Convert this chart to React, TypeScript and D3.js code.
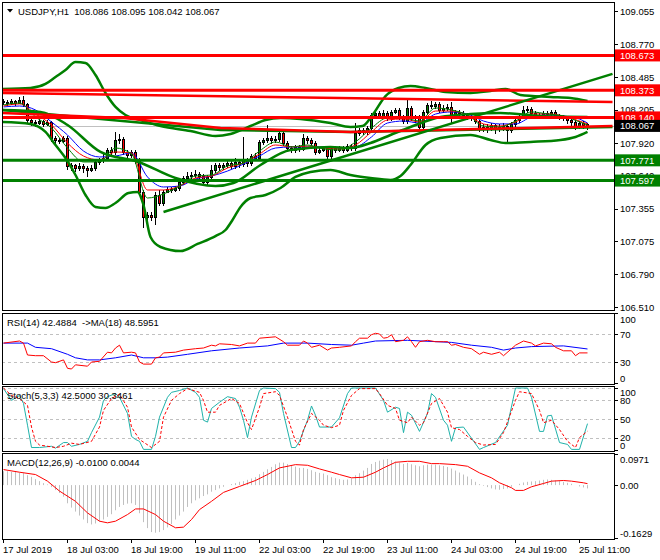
import React from 'react';
import * as d3 from 'd3';

// ------------------------------------------------------------------ data
const titleText = 'USDJPY,H1  108.086 108.095 108.042 108.067';
const rsiTitle = 'RSI(14) 42.4884  ->MA(18) 48.5951';
const stochTitle = 'Stoch(5,3,3) 42.5000 30.3461';
const macdTitle = 'MACD(12,26,9) -0.0100 0.0044';

const timeLabels = ['17 Jul 2019', '18 Jul 03:00', '18 Jul 19:00', '19 Jul 11:00', '22 Jul 03:00',
  '22 Jul 19:00', '23 Jul 11:00', '24 Jul 03:00', '24 Jul 19:00', '25 Jul 11:00'];
const timeLabelBars = [0, 16, 32, 48, 64, 80, 96, 112, 128, 144];

const priceTickLabels = ['109.055', '108.770', '108.485', '108.205', '107.920', '107.640',
  '107.355', '107.075', '106.790', '106.510'];
const resistanceLevels = [108.673, 108.373, 108.140];
const supportLevels = [107.771, 107.597];
const lastPrice = 108.067;

// [open, high, low, close]
const candles: number[][] = [
  [108.281,108.298,108.255,108.272],[108.272,108.290,108.247,108.264],[108.264,108.298,108.255,108.281],
  [108.281,108.290,108.247,108.264],[108.264,108.316,108.264,108.290],[108.290,108.324,108.238,108.255],
  [108.255,108.264,108.092,108.118],[108.118,108.135,108.075,108.101],[108.101,108.118,108.066,108.092],
  [108.092,108.126,108.084,108.109],[108.109,108.118,108.066,108.084],[108.084,108.118,108.075,108.101],
  [108.101,108.109,107.937,107.963],[107.963,107.980,107.920,107.946],[107.946,107.963,107.920,107.937],
  [107.937,107.980,107.929,107.963],[107.963,107.980,107.696,107.722],[107.722,107.748,107.688,107.731],
  [107.731,107.739,107.679,107.705],[107.705,107.748,107.688,107.722],[107.722,107.739,107.671,107.705],
  [107.705,107.722,107.636,107.688],[107.688,107.731,107.679,107.705],[107.705,107.774,107.688,107.757],
  [107.757,107.791,107.739,107.774],[107.774,107.825,107.757,107.791],[107.791,107.877,107.774,107.860],
  [107.860,107.886,107.808,107.843],[107.843,108.015,107.825,107.946],[107.946,107.997,107.920,107.954],
  [107.954,107.972,107.825,107.843],[107.843,107.860,107.791,107.817],[107.817,107.860,107.800,107.843],
  [107.843,107.860,107.748,107.774],[107.774,107.791,107.481,107.499],[107.499,107.516,107.198,107.284],
  [107.284,107.327,107.267,107.301],[107.301,107.327,107.258,107.284],[107.284,107.499,107.224,107.473],
  [107.473,107.516,107.387,107.404],[107.404,107.516,107.387,107.499],[107.499,107.542,107.499,107.524],
  [107.524,107.542,107.499,107.516],[107.516,107.550,107.507,107.533],[107.533,107.602,107.516,107.585],
  [107.585,107.636,107.567,107.619],[107.619,107.671,107.602,107.636],[107.636,107.671,107.619,107.645],
  [107.645,107.688,107.628,107.653],[107.653,107.671,107.619,107.636],[107.636,107.653,107.567,107.585],
  [107.585,107.645,107.567,107.628],[107.628,107.731,107.610,107.688],[107.688,107.748,107.671,107.731],
  [107.731,107.748,107.688,107.714],[107.714,107.748,107.696,107.731],[107.731,107.774,107.714,107.748],
  [107.748,107.765,107.705,107.722],[107.722,107.791,107.705,107.757],[107.757,107.774,107.714,107.739],
  [107.739,107.972,107.722,107.774],[107.774,107.791,107.722,107.748],[107.748,107.825,107.731,107.808],
  [107.808,107.834,107.774,107.791],[107.791,107.946,107.774,107.929],[107.929,107.963,107.911,107.946],
  [107.946,108.075,107.929,107.963],[107.963,107.980,107.920,107.946],[107.946,107.980,107.929,107.954],
  [107.954,108.032,107.937,108.006],[108.006,108.023,107.903,107.920],[107.920,107.937,107.851,107.877],
  [107.877,107.894,107.843,107.860],[107.860,107.903,107.843,107.886],[107.886,107.903,107.851,107.868],
  [107.868,107.997,107.860,107.963],[107.963,107.980,107.920,107.946],[107.946,107.963,107.903,107.920],
  [107.920,107.937,107.825,107.843],[107.843,107.877,107.834,107.860],[107.860,107.894,107.851,107.877],
  [107.877,107.894,107.765,107.808],[107.808,107.894,107.791,107.877],[107.877,107.894,107.843,107.860],
  [107.860,107.894,107.851,107.877],[107.877,107.894,107.843,107.860],[107.860,107.911,107.851,107.894],
  [107.894,107.911,107.860,107.877],[107.877,108.092,107.860,108.006],[108.006,108.049,107.989,108.032],
  [108.032,108.049,107.997,108.015],[108.015,108.066,107.997,108.049],[108.049,108.178,108.032,108.161],
  [108.161,108.195,108.144,108.178],[108.178,108.195,108.135,108.152],[108.152,108.204,108.144,108.178],
  [108.178,108.195,108.118,108.135],[108.135,108.204,108.118,108.187],[108.187,108.221,108.178,108.204],
  [108.204,108.221,108.126,108.144],[108.144,108.161,108.092,108.109],[108.109,108.290,108.092,108.221],
  [108.221,108.238,108.118,108.135],[108.135,108.161,108.101,108.144],[108.144,108.161,108.040,108.058],
  [108.058,108.204,108.049,108.187],[108.187,108.264,108.169,108.247],[108.247,108.281,108.221,108.238],
  [108.238,108.272,108.221,108.255],[108.255,108.272,108.187,108.204],[108.204,108.247,108.187,108.221],
  [108.221,108.255,108.204,108.230],[108.230,108.272,108.101,108.144],[108.144,108.204,108.135,108.187],
  [108.187,108.204,108.152,108.178],[108.178,108.195,108.144,108.161],[108.161,108.178,108.126,108.144],
  [108.144,108.169,108.118,108.135],[108.135,108.152,108.092,108.109],[108.109,108.118,108.023,108.040],
  [108.040,108.084,108.023,108.058],[108.058,108.084,108.015,108.049],[108.049,108.092,108.032,108.075],
  [108.075,108.084,108.006,108.040],[108.040,108.084,108.023,108.058],[108.058,108.092,108.032,108.066],
  [108.066,108.084,107.929,108.032],[108.032,108.101,108.015,108.084],[108.084,108.135,108.066,108.118],
  [108.118,108.169,108.101,108.152],[108.152,108.238,108.135,108.204],[108.204,108.238,108.187,108.212],
  [108.212,108.230,108.161,108.178],[108.178,108.195,108.144,108.161],[108.161,108.178,108.135,108.152],
  [108.152,108.195,108.144,108.178],[108.178,108.195,108.152,108.169],[108.169,108.204,108.152,108.187],
  [108.187,108.204,108.135,108.152],[108.152,108.169,108.126,108.144],[108.144,108.161,108.118,108.135],
  [108.135,108.152,108.092,108.118],[108.118,108.144,108.075,108.101],[108.101,108.118,108.040,108.058],
  [108.058,108.109,108.049,108.092],[108.092,108.109,108.049,108.075],[108.086,108.095,108.042,108.067],
];

// moving averages [bar, price]
const maBlue = [[0,108.230],[4,108.238],[8,108.204],[12,108.101],[16,107.989],[20,107.851],[24,107.800],[28,107.808],[32,107.834],[36,107.628],[40,107.542],[44,107.550],[48,107.611],[52,107.636],[56,107.679],[60,107.739],[64,107.808],[68,107.877],[72,107.886],[76,107.886],[80,107.886],[84,107.877],[88,107.886],[92,107.972],[96,108.092],[100,108.109],[104,108.092],[108,108.169],[112,108.187],[116,108.169],[120,108.109],[124,108.084],[128,108.084],[132,108.144],[136,108.161],[140,108.152],[144,108.126],[146,108.092]];
const maRed = [[0,108.238],[4,108.256],[8,108.170],[12,108.075],[16,107.920],[20,107.808],[24,107.774],[28,107.843],[32,107.834],[36,107.516],[40,107.516],[44,107.550],[48,107.619],[52,107.636],[56,107.705],[60,107.748],[64,107.826],[68,107.903],[72,107.886],[76,107.894],[80,107.877],[84,107.869],[88,107.903],[92,108.015],[96,108.118],[100,108.127],[104,108.101],[108,108.195],[112,108.195],[116,108.161],[120,108.084],[124,108.066],[128,108.101],[132,108.170],[136,108.170],[140,108.152],[144,108.109],[146,108.084]];
const maGreen = [[0,108.247],[4,108.264],[8,108.144],[12,108.049],[16,107.877],[20,107.757],[24,107.757],[28,107.877],[32,107.826],[36,107.447],[40,107.482],[44,107.550],[48,107.636],[52,107.645],[56,107.722],[60,107.748],[64,107.851],[68,107.929],[72,107.886],[76,107.903],[80,107.869],[84,107.860],[88,107.929],[92,108.049],[96,108.135],[100,108.135],[104,108.109],[108,108.221],[112,108.204],[116,108.161],[120,108.066],[124,108.058],[128,108.109],[132,108.187],[136,108.170],[140,108.152],[144,108.101],[146,108.075]];

// bands [bar, price]
const bandUpper = [[-0.25,108.385],[6.75,108.393],[10.5,108.428],[13,108.488],[15.5,108.548],[18,108.617],[20.5,108.608],[23,108.505],[25.5,108.350],[28,108.230],[30.5,108.161],[34.25,108.118],[39.25,108.066],[46.75,108.023],[53,107.980],[56.75,107.998],[61.75,108.066],[65.5,108.118],[69.25,108.135],[74.25,108.127],[81.75,108.092],[86.75,108.058],[89.75,108.066],[92.25,108.161],[95.5,108.324],[98.75,108.393],[101.75,108.410],[105.5,108.393],[110.5,108.359],[116.75,108.350],[121.75,108.367],[125.5,108.385],[129.25,108.333],[136.75,108.316],[141.75,108.307],[146,108.281]];
const bandMiddle = [[-0.25,108.204],[9.25,108.187],[16,108.075],[24.25,107.843],[33.75,107.757],[43,107.619],[53,107.550],[57.5,107.576],[64.25,107.731],[71.75,107.860],[81.75,107.886],[86.75,107.877],[91.75,107.920],[96.75,107.989],[101.75,108.058],[109.25,108.144],[116.75,108.169],[124.25,108.178],[134.25,108.152],[146,108.144]];
const bandLower = [[-0.25,108.101],[6.75,108.084],[10.5,108.015],[13,107.903],[15.5,107.791],[18,107.645],[20.5,107.473],[23,107.370],[25.5,107.361],[28,107.404],[31.25,107.490],[33.5,107.499],[35,107.387],[36.75,107.112],[39.25,107.026],[44.25,106.991],[48.5,107.052],[53,107.120],[55.5,107.172],[57.25,107.258],[59.25,107.370],[61.75,107.447],[65.5,107.473],[69.25,107.533],[73,107.628],[76.75,107.671],[81.75,107.688],[86.75,107.645],[91.75,107.619],[96.75,107.602],[99.25,107.636],[101.75,107.731],[105.5,107.903],[109.25,107.963],[116.75,107.989],[121.75,107.946],[125.5,107.920],[131.75,107.929],[139.25,107.946],[143,107.972],[146,108.015]];

// trend lines [bar, price]
const trendUp = [[40,107.327],[152.25,108.514]];
const redSlope = [[-0.25,108.350],[152.25,108.273]];
const redTrend = [[-0.25,108.178],[30,108.135],[54.25,108.049],[86.75,108.015],[152.25,108.066]];
const greenTrend = [[-0.25,108.204],[54.25,108.032],[86.75,108.015],[152.25,108.058]];

// RSI [bar, value]
const rsiLine = [[0,57],[4,60],[5,57],[6,40],[8,39],[10,39],[12,30],[13,29],[15,33],[16,21],[17,20],[18,26],[21,24],[22,30],[24,31],[26,44],[27,43],[28,50],[29,54],[30,43],[32,44],[33,43],[34,30],[35,27],[37,27],[38,36],[39,37],[40,43],[43,44],[45,47],[48,49],[50,50],[52,54],[53,53],[54,56],[57,55],[59,53],[61,57],[63,57],[64,64],[68,66],[70,59],[71,54],[74,54],[75,60],[76,57],[77,51],[79,54],[81,47],[82,50],[84,51],[87,53],[88,59],[89,64],[91,64],[92,69],[93,71],[94,70],[95,64],[96,65],[97,69],[98,59],[100,61],[101,66],[102,59],[103,51],[104,59],[106,61],[108,59],[110,59],[111,59],[112,54],[113,55],[115,51],[117,49],[119,41],[120,44],[122,41],[124,44],[125,39],[127,49],[128,54],[130,60],[132,57],[133,53],[135,57],[137,56],[138,51],[140,46],[142,46],[143,39],[144,43],[146,43]];
const rsiMa = [[0,57],[6,57],[8,51],[12,49],[16,41],[18,36],[21,33],[24,33],[28,36],[32,40],[35,36],[38,36],[41,37],[46,41],[52,46],[59,50],[66,53],[70,57],[76,57],[82,55],[87,54],[90,57],[93,60],[101,61],[112,58],[117,54],[122,51],[125,47],[128,50],[132,52],[140,53],[146,48.6]];
const rsiTicks = [100, 70, 30, 0];
const rsiLevels = [70, 30];

// Stochastic [bar, value]
const stochMain = [[0,99],[2,80],[4,88],[5,75],[6,40],[7,4],[9,4],[12,6],[13,3],[15,12],[16,12],[17,6],[19,9],[21,14],[22,28],[24,53],[25,80],[26,86],[28,91],[29,85],[31,59],[32,22],[33,17],[34,14],[35,1],[37,1],[38,22],[39,53],[41,85],[42,93],[44,96],[46,100],[48,93],[49,85],[50,48],[51,45],[52,67],[54,77],[56,86],[58,83],[59,69],[60,48],[61,20],[62,53],[64,96],[65,100],[68,99],[69,93],[70,59],[72,4],[73,4],[74,14],[76,48],[77,71],[78,56],[79,37],[82,37],[84,52],[86,91],[87,100],[93,100],[95,80],[96,61],[98,69],[99,67],[100,28],[101,61],[102,56],[104,30],[106,59],[107,91],[108,85],[110,48],[111,40],[112,14],[113,36],[115,37],[119,1],[120,4],[123,12],[126,40],[128,100],[131,100],[132,85],[134,30],[135,30],[136,55],[137,56],[139,12],[141,9],[142,1],[144,1],[146,42.5]];
const stochSignal = [[0,100],[2,88],[4,83],[6,72],[7,37],[8,14],[9,8],[13,4],[15,6],[17,11],[19,9],[22,14],[24,37],[25,64],[27,83],[29,90],[31,69],[32,37],[34,17],[37,4],[39,14],[40,53],[42,80],[44,91],[46,99],[49,93],[50,80],[51,61],[53,61],[54,72],[57,83],[59,75],[61,44],[62,33],[64,69],[65,91],[68,94],[69,88],[71,53],[73,14],[74,8],[75,33],[77,59],[79,48],[80,40],[82,36],[84,40],[85,64],[87,88],[89,99],[93,99],[94,91],[96,72],[98,67],[99,48],[101,44],[102,53],[104,40],[105,44],[107,75],[109,83],[111,61],[112,36],[114,33],[116,22],[118,12],[120,8],[123,9],[125,28],[128,80],[129,94],[132,91],[134,64],[135,44],[137,48],[139,33],[141,14],[143,4],[144,20],[146,30.3]];
const stochTicks = [100, 80, 50, 20, 0];
const stochLevels = [100, 80, 50, 20];

// MACD
const macdHist = [0.042,0.042,0.040,0.040,0.038,0.036,0.030,0.025,0.018,0.012,
  0.006,0.002,-0.006,-0.015,-0.024,-0.035,-0.055,-0.068,-0.080,-0.092,
  -0.104,-0.115,-0.119,-0.116,-0.110,-0.104,-0.096,-0.088,-0.076,-0.066,
  -0.060,-0.056,-0.055,-0.060,-0.085,-0.112,-0.130,-0.142,-0.144,-0.142,
  -0.136,-0.128,-0.118,-0.104,-0.092,-0.080,-0.066,-0.055,-0.046,-0.040,
  -0.033,-0.028,-0.020,-0.015,-0.010,-0.005,0.000,0.003,0.006,0.010,
  0.012,0.016,0.020,0.024,0.033,0.040,0.048,0.055,0.063,0.068,
  0.068,0.064,0.058,0.056,0.052,0.052,0.049,0.045,0.040,0.037,
  0.035,0.030,0.024,0.021,0.018,0.016,0.017,0.020,0.030,0.036,
  0.044,0.052,0.064,0.070,0.074,0.077,0.079,0.076,0.071,0.068,
  0.064,0.067,0.063,0.060,0.057,0.060,0.062,0.062,0.062,0.060,
  0.058,0.055,0.050,0.044,0.038,0.032,0.026,0.018,0.010,0.003,
  -0.002,-0.006,-0.010,-0.013,-0.014,-0.012,-0.010,-0.005,0.000,0.004,
  0.008,0.010,0.011,0.012,0.014,0.016,0.017,0.016,0.014,0.012,
  0.010,0.007,0.004,0.000,-0.004,-0.007,-0.010];
const macdSignal = [[0,0.047],[4,0.039],[8,0.032],[11,0.012],[14,-0.018],[18,-0.049],[21,-0.084],[24,-0.109],[26,-0.114],[28,-0.109],[31,-0.089],[33,-0.072],[35,-0.072],[38,-0.089],[40,-0.109],[43,-0.129],[45,-0.127],[47,-0.104],[49,-0.074],[52,-0.049],[55,-0.022],[59,-0.004],[63,0.014],[66,0.032],[69,0.052],[73,0.062],[76,0.060],[79,0.049],[82,0.039],[84,0.032],[87,0.022],[90,0.024],[93,0.039],[95,0.052],[98,0.069],[101,0.072],[104,0.072],[107,0.065],[109,0.065],[113,0.062],[116,0.057],[119,0.037],[122,0.022],[124,0.007],[127,-0.008],[128,-0.016],[130,-0.016],[132,-0.005],[135,0.005],[137,0.012],[140,0.014],[142,0.012],[145,0.007],[146,0.0044]];
const macdTicks = [0.0971, 0, -0.1629];
const macdTickLabels = ['0.0971', '0.00', '-0.1629'];

// ------------------------------------------------------------------ chart
const FONT = '"Liberation Sans", Arial, sans-serif';
const FS = 9.5;
const RED = '#ff0000';
const GREEN = '#008000';

export default function App() {
  const W = 660, H = 560;
  const L = 2, R = 614;
  const main = { top: 2, bottom: 310 };
  const rsiP = { top: 313, bottom: 384 };
  const stoP = { top: 386, bottom: 451 };
  const macP = { top: 453, bottom: 539 };

  const n = candles.length;
  const x = d3.scaleLinear().domain([0, n - 1]).range([3, 3 + 4 * (n - 1)]);
  const y = d3.scaleLinear().domain([106.51, 109.055]).range([307, 11]);
  const yR = d3.scaleLinear().domain([0, 100]).range([383, 313]);
  const yS = d3.scaleLinear().domain([0, 100]).range([450, 388]);
  const yM = d3.scaleLinear().domain([-0.1629, 0.0971]).range([539, 453]);

  const lineOf = (ys: d3.ScaleLinear<number, number>, curve = d3.curveLinear) =>
    d3.line<number[]>().x(d => x(d[0]) + 0.5).y(d => ys(d[1])).curve(curve);

  const clampLabel = (v: number, p: { top: number; bottom: number }) =>
    Math.max(p.top + 6.5, Math.min(p.bottom - 6, v));

  const txt = { fontFamily: FONT, fontSize: FS, fill: '#000' } as const;

  const crisp = (v: number) => Math.round(v) + 0.5;

  return (
    <svg width={W} height={H} style={{ position: 'absolute', left: 0, top: 0, background: '#fff' }}
      xmlns="http://www.w3.org/2000/svg">
      <defs>
        <clipPath id="clipMain"><rect x={L} y={main.top} width={R - L} height={main.bottom - main.top} /></clipPath>
        <clipPath id="clipRsi"><rect x={L} y={rsiP.top} width={R - L} height={rsiP.bottom - rsiP.top} /></clipPath>
        <clipPath id="clipSto"><rect x={L} y={stoP.top} width={R - L} height={stoP.bottom - stoP.top} /></clipPath>
        <clipPath id="clipMac"><rect x={L} y={macP.top} width={R - L} height={macP.bottom - macP.top} /></clipPath>
      </defs>
      <rect x={0} y={0} width={W} height={H} fill="#fff" />

      {/* ---------------- main panel ---------------- */}
      <g clipPath="url(#clipMain)">
        {/* bid line */}
        <line x1={L} x2={R} y1={crisp(y(lastPrice))} y2={crisp(y(lastPrice))} stroke="#c0c0c0" strokeWidth={1} />
        {/* candles */}
        {candles.map((c, i) => {
          const [o, h, l, cl] = c;
          const cx = Math.round(x(i));
          const top = Math.round(y(Math.max(o, cl)));
          const bot = Math.round(y(Math.min(o, cl)));
          const bull = cl > o;
          return (
            <g key={i}>
              <line x1={cx + 0.5} x2={cx + 0.5} y1={Math.round(y(h))} y2={Math.round(y(l)) + 1} stroke="#000" strokeWidth={1} />
              {bot - top < 1 ? (
                <line x1={cx - 1} x2={cx + 2} y1={top + 0.5} y2={top + 0.5} stroke="#000" strokeWidth={1} />
              ) : (
                <rect x={cx - 0.5} y={top + 0.5} width={2} height={bot - top} fill={bull ? GREEN : RED} stroke="#000" strokeWidth={1} />
              )}
            </g>
          );
        })}
        {/* moving averages */}
        <path d={lineOf(y, d3.curveMonotoneX)(maBlue) || ''} fill="none" stroke="#0000ff" strokeWidth={1} />
        <path d={lineOf(y, d3.curveMonotoneX)(maRed) || ''} fill="none" stroke={RED} strokeWidth={1} />
        <path d={lineOf(y, d3.curveMonotoneX)(maGreen) || ''} fill="none" stroke={GREEN} strokeWidth={1} />
        {/* bands */}
        {[bandUpper, bandMiddle, bandLower].map((b, k) => (
          <path key={k} d={lineOf(y, d3.curveMonotoneX)(b) || ''} fill="none" stroke={GREEN} strokeWidth={2.5} />
        ))}
        {/* trend lines */}
        <path d={lineOf(y)(greenTrend) || ''} fill="none" stroke={GREEN} strokeWidth={2.5} />
        <path d={lineOf(y)(redTrend) || ''} fill="none" stroke={RED} strokeWidth={2.5} />
        <path d={lineOf(y)(redSlope) || ''} fill="none" stroke={RED} strokeWidth={2.5} />
        <path d={lineOf(y)(trendUp) || ''} fill="none" stroke={GREEN} strokeWidth={2.5} />
        {/* horizontal levels */}
        {resistanceLevels.map((v, k) => (
          <line key={'r' + k} x1={L} x2={R} y1={y(v)} y2={y(v)} stroke={RED} strokeWidth={3} />
        ))}
        {supportLevels.map((v, k) => (
          <line key={'s' + k} x1={L} x2={R} y1={y(v)} y2={y(v)} stroke={GREEN} strokeWidth={3} />
        ))}
      </g>
      {/* title */}
      <path d="M7,9 L13,9 L10,12.5 Z" fill="#000" />
      <text x={18} y={15} {...txt} style={{ whiteSpace: 'pre' }}>{titleText}</text>

      {/* price axis */}
      {priceTickLabels.map((s, k) => (
        <g key={k}>
          <line x1={R} x2={R + 4} y1={crisp(y(+s))} y2={crisp(y(+s))} stroke="#000" />
          <text x={620} y={y(+s) + 3.5} {...txt}>{s}</text>
        </g>
      ))}
      {resistanceLevels.map((v, k) => (
        <g key={'tr' + k}>
          <rect x={615} y={y(v) - 6} width={45} height={12} fill={RED} />
          <text x={620} y={y(v) + 3.5} {...txt} fill="#fff">{v.toFixed(3)}</text>
        </g>
      ))}
      {supportLevels.map((v, k) => (
        <g key={'ts' + k}>
          <rect x={615} y={y(v) - 6} width={45} height={12} fill={GREEN} />
          <text x={620} y={y(v) + 3.5} {...txt} fill="#fff">{v.toFixed(3)}</text>
        </g>
      ))}
      <rect x={615} y={y(lastPrice) - 6} width={45} height={12} fill="#000" />
      <text x={620} y={y(lastPrice) + 3.5} {...txt} fill="#fff">{lastPrice.toFixed(3)}</text>

      {/* ---------------- RSI ---------------- */}
      <g clipPath="url(#clipRsi)">
        {rsiLevels.map((v, k) => (
          <line key={k} x1={L} x2={R} y1={crisp(yR(v))} y2={crisp(yR(v))} stroke="#c0c0c0" strokeDasharray="3,3" />
        ))}
        <path d={lineOf(yR)(rsiMa) || ''} fill="none" stroke="#0000ff" strokeWidth={1} />
        <path d={lineOf(yR)(rsiLine) || ''} fill="none" stroke={RED} strokeWidth={1} />
      </g>
      <text x={7} y={326} {...txt} style={{ whiteSpace: 'pre' }}>{rsiTitle}</text>
      {rsiTicks.map((v, k) => (
        <g key={k}>
          <line x1={R} x2={R + 4} y1={crisp(Math.min(yR(v), rsiP.bottom - 1))} y2={crisp(Math.min(yR(v), rsiP.bottom - 1))} stroke="#000" />
          <text x={620} y={clampLabel(yR(v), rsiP) + 3.5} {...txt}>{v}</text>
        </g>
      ))}

      {/* ---------------- Stochastic ---------------- */}
      <g clipPath="url(#clipSto)">
        {stochLevels.map((v, k) => (
          <line key={k} x1={L} x2={R} y1={crisp(yS(v))} y2={crisp(yS(v))} stroke="#c0c0c0" strokeDasharray="3,3" />
        ))}
        <path d={lineOf(yS)(stochMain) || ''} fill="none" stroke="#20b2aa" strokeWidth={1} />
        <path d={lineOf(yS)(stochSignal) || ''} fill="none" stroke={RED} strokeWidth={1} strokeDasharray="3,2" />
      </g>
      <text x={7} y={399} {...txt}>{stochTitle}</text>
      {stochTicks.map((v, k) => (
        <g key={k}>
          <line x1={R} x2={R + 4} y1={crisp(yS(v))} y2={crisp(yS(v))} stroke="#000" />
          <text x={620} y={clampLabel(yS(v), stoP) + 3.5} {...txt}>{v}</text>
        </g>
      ))}

      {/* ---------------- MACD ---------------- */}
      <g clipPath="url(#clipMac)">
        {macdHist.map((v, i) => (
          <line key={i} x1={Math.round(x(i)) + 0.5} x2={Math.round(x(i)) + 0.5} y1={yM(0)} y2={yM(v)} stroke="#c0c0c0" strokeWidth={1} />
        ))}
        <path d={lineOf(yM)(macdSignal) || ''} fill="none" stroke={RED} strokeWidth={1} />
      </g>
      <text x={7} y={466} {...txt}>{macdTitle}</text>
      {macdTicks.map((v, k) => (
        <g key={k}>
          <line x1={R} x2={R + 4} y1={crisp(Math.max(macP.top + 1, Math.min(yM(v), macP.bottom - 1)))} y2={crisp(Math.max(macP.top + 1, Math.min(yM(v), macP.bottom - 1)))} stroke="#000" />
          <text x={620} y={clampLabel(yM(v), macP) + 3.5} {...txt}>{macdTickLabels[k]}</text>
        </g>
      ))}

      {/* ---------------- frames ---------------- */}
      {[main, rsiP, stoP, macP].map((p, k) => (
        <rect key={k} x={L + 0.5} y={p.top + 0.5} width={R - L} height={p.bottom - p.top} fill="none" stroke="#000" strokeWidth={1} />
      ))}

      {/* time axis */}
      {timeLabels.map((s, k) => {
        const xi = Math.round(x(timeLabelBars[k]));
        return (
          <g key={k}>
            <line x1={xi + 0.5} x2={xi + 0.5} y1={macP.bottom} y2={macP.bottom + 4} stroke="#000" />
            <text x={xi} y={553} {...txt}>{s}</text>
          </g>
        );
      })}
    </svg>
  );
}
